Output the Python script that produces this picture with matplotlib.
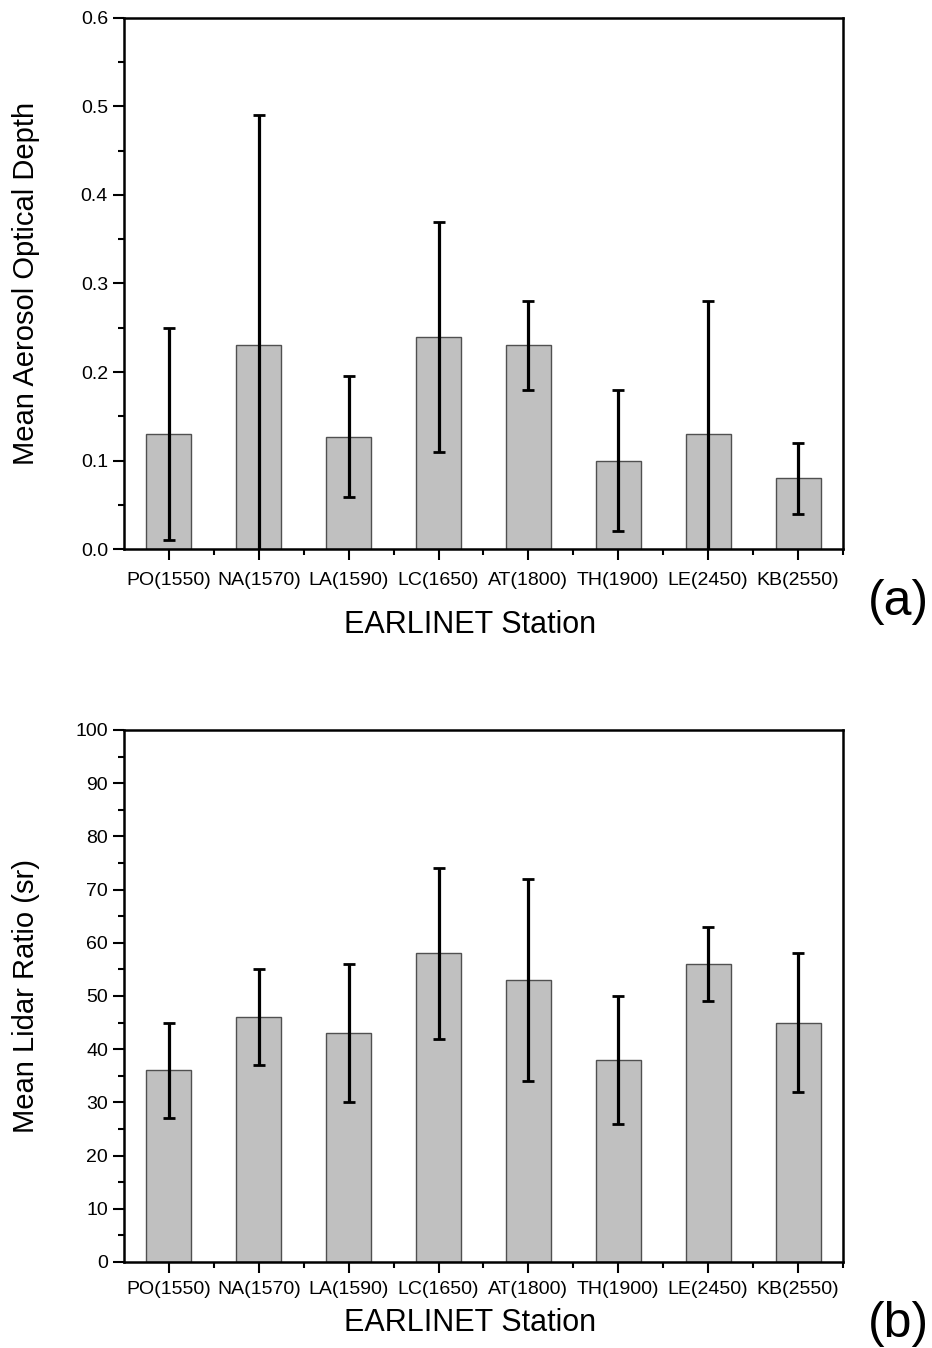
import numpy as np
import matplotlib
matplotlib.use("Agg")
import matplotlib.pyplot as plt
from matplotlib.ticker import MultipleLocator, FixedLocator, FormatStrFormatter

plt.rcParams["font.family"] = ["Liberation Sans", "DejaVu Sans"]

stations = ["PO(1550)", "NA(1570)", "LA(1590)", "LC(1650)",
            "AT(1800)", "TH(1900)", "LE(2450)", "KB(2550)"]
aod_mean = [0.13, 0.23, 0.127, 0.24, 0.23, 0.10, 0.13, 0.08]
aod_err = [0.12, 0.26, 0.068, 0.13, 0.05, 0.08, 0.15, 0.04]
lr_mean = [36, 46, 43, 58, 53, 38, 56, 45]
lr_err = [9, 9, 13, 16, 19, 12, 7, 13]

fig = plt.figure(figsize=(9.32, 13.48), dpi=100)
ax1 = fig.add_axes([0.133, 0.5927, 0.7715, 0.394])
ax2 = fig.add_axes([0.133, 0.0638, 0.7715, 0.3947])


def panel(ax, vals, errs, ylim, major, minor, ylabel, tag, xlab_y, tag_y, xpad):
    x = np.arange(len(stations))
    ax.bar(x, vals, width=0.5, color="#c0c0c0", edgecolor="#505050", linewidth=1.0, zorder=2)
    ax.errorbar(x, vals, yerr=errs, fmt="none", ecolor="black", elinewidth=2.3,
                capsize=4.5, capthick=2, zorder=3)
    ax.set_xlim(-0.5, len(stations) - 0.5)
    ax.set_ylim(*ylim)
    ax.set_xticks(x)
    ax.set_xticklabels(stations, fontsize=14)
    ax.xaxis.set_minor_locator(FixedLocator(x + 0.5))
    ax.yaxis.set_major_locator(MultipleLocator(major))
    ax.yaxis.set_minor_locator(MultipleLocator(minor))
    ax.tick_params(axis="both", which="major", direction="out", length=8, width=1.5,
                   labelsize=14)
    ax.tick_params(axis="x", which="major", pad=xpad)
    ax.tick_params(axis="both", which="minor", direction="out", length=4, width=1.5)
    for s in ax.spines.values():
        s.set_linewidth(1.8)
    ax.set_ylabel(ylabel, fontsize=21)
    ax.yaxis.set_label_coords(-0.117, 0.5)
    ax.set_xlabel("EARLINET Station", fontsize=22)
    ax.xaxis.set_label_coords(0.481, xlab_y)
    ax.text(1.035, tag_y, tag, transform=ax.transAxes, fontsize=36, ha="left", va="center")


panel(ax1, aod_mean, aod_err, (0, 0.6), 0.1, 0.05, "Mean Aerosol Optical Depth", "(a)",
      -0.115, -0.10, 8.5)
ax1.yaxis.set_major_formatter(FormatStrFormatter("%.1f"))

panel(ax2, lr_mean, lr_err, (0, 100), 10, 5, "Mean Lidar Ratio (sr)", "(b)",
      -0.0865, -0.117, 6)

fig.savefig("out.png", dpi=100)
